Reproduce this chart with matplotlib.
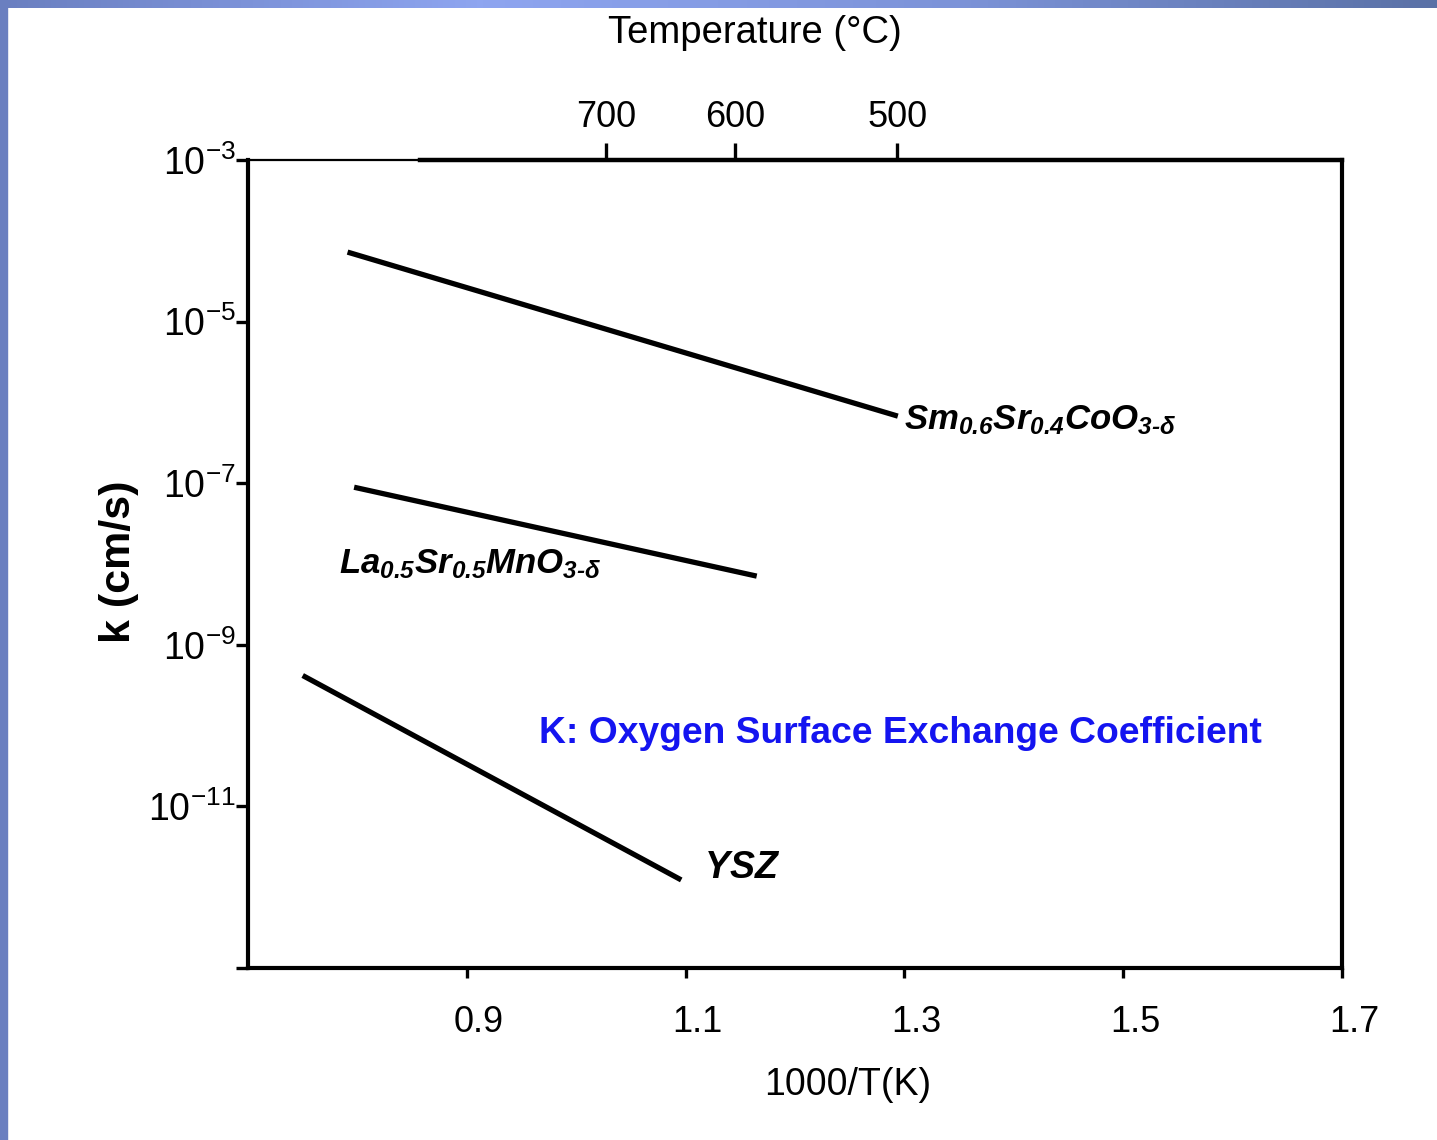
"""Oxygen surface exchange coefficient k vs 1000/T for three SOFC materials."""

import matplotlib
matplotlib.use("Agg")
import matplotlib.pyplot as plt
import matplotlib.transforms as mtransforms
import numpy as np
from matplotlib.colors import LinearSegmentedColormap

# ---- data ----
MATERIALS = ["Sm0.6Sr0.4CoO3-d", "La0.5Sr0.5MnO3-d", "YSZ"]
INV_T = {                       # 1000/T (K), line end points
    "Sm0.6Sr0.4CoO3-d": [0.791, 1.294],
    "La0.5Sr0.5MnO3-d": [0.797, 1.165],
    "YSZ":              [0.750, 1.096],
}
LOG_K = {                       # log10 k (cm/s)
    "Sm0.6Sr0.4CoO3-d": [-4.14, -6.17],
    "La0.5Sr0.5MnO3-d": [-7.05, -8.15],
    "YSZ":              [-9.38, -11.91],
}
X_TICKS = [0.9, 1.1, 1.3, 1.5, 1.7]
Y_EXPONENTS = [-3, -5, -7, -9, -11, -13]
TEMP_C_TICKS = [700, 600, 500]

plt.rcParams["font.family"] = ["Liberation Sans", "DejaVu Sans"]
plt.rcParams["mathtext.fontset"] = "custom"
plt.rcParams["mathtext.rm"] = "Liberation Sans:italic:bold"
plt.rcParams["mathtext.it"] = "Liberation Sans:italic:bold"
plt.rcParams["mathtext.sf"] = "Liberation Sans"

W, H = 1437, 1140
fig = plt.figure(figsize=(W / 100, H / 100), dpi=100)
fig.patch.set_facecolor("white")

# slide frame: blue strip on the left, gradient strip on top
fig.patches.append(plt.Rectangle((0, 0), 7 / W, 1, transform=fig.transFigure,
                                 color="#6a7fc0", zorder=0))
top = fig.add_axes([0, 1 - 8 / H, 1, 8 / H])
cmap = LinearSegmentedColormap.from_list("frame", ["#6a7fc0", "#8ea5f0", "#7c93d8", "#5a71a6"])
top.imshow(np.linspace(0, 1, 256)[None, :], aspect="auto", cmap=cmap)
top.axis("off")

ax = fig.add_axes([248 / W, 1 - 968 / H, (1342 - 248) / W, (968 - 160) / H])
for m in MATERIALS:
    ax.plot(INV_T[m], 10.0 ** np.array(LOG_K[m]), color="black", lw=3.8,
            solid_capstyle="butt")

ax.set_xlim(0.7, 1.7)
ax.set_yscale("log")
ax.set_ylim(1e-13, 1e-3)
ax.set_xticks(X_TICKS)
ax.set_xticklabels([f"{v:.1f}" for v in X_TICKS])
ax.set_yticks([10.0 ** e for e in Y_EXPONENTS])
ax.set_yticklabels([f"$\\mathsf{{10^{{{e}}}}}$" if e != -13 else "" for e in Y_EXPONENTS])
ax.yaxis.set_minor_locator(matplotlib.ticker.NullLocator())
ax.tick_params(axis="x", direction="out", length=7, width=2.4, pad=20, labelsize=26)
ax.tick_params(axis="y", direction="out", length=9, width=2.4, pad=0, labelsize=27)
# scanned original has the bottom labels sitting a little right of their ticks
shift = mtransforms.ScaledTranslation(12 / 100, 0, fig.dpi_scale_trans)
for lab in ax.get_xticklabels():
    lab.set_transform(lab.get_transform() + shift)
for side in ["left", "bottom", "right"]:
    ax.spines[side].set_linewidth(3)
ax.spines["top"].set_linewidth(1.6)

# top axis in degrees Celsius
twin = ax.twiny()
twin.set_xlim(ax.get_xlim())
twin.set_xticks([1000 / (t + 273.15) for t in TEMP_C_TICKS])
twin.set_xticklabels([str(t) for t in TEMP_C_TICKS])
twin.tick_params(axis="x", direction="out", length=12, width=2.4, pad=6, labelsize=26)
twin.spines["top"].set_bounds(0.857, 1.7)
twin.spines["top"].set_linewidth(3.2)
for side in ["left", "bottom", "right"]:
    twin.spines[side].set_visible(False)

# material labels
ax.text(1.300, 10 ** -6.33, r"$Sm_{0.6}Sr_{0.4}CoO_{3\text{-}\delta}$",
        fontsize=25, va="baseline", ha="left")
ax.text(0.783, 10 ** -8.12, r"$La_{0.5}Sr_{0.5}MnO_{3\text{-}\delta}$",
        fontsize=25, va="baseline", ha="left")
ax.text(1.117, 10 ** -11.89, r"$YSZ$",
        fontsize=27, va="baseline", ha="left")
ax.text(0.9657, 10 ** -10.22, "K: Oxygen Surface Exchange Coefficient",
        fontweight="bold", color="#1414f0",
        fontsize=26.8, va="baseline", ha="left")

fig.text(848 / W, 1 - 1085 / H, "1000/T(K)", fontsize=27, ha="center", va="center")
fig.text(755 / W, 1 - 33 / H, "Temperature (\u00b0C)", fontsize=27.5,
         ha="center", va="center")
fig.text(119 / W, 1 - 562 / H, "k (cm/s)",
         fontweight="bold", fontsize=31, rotation=90, ha="center", va="center")

fig.savefig("out.png", dpi=100)
